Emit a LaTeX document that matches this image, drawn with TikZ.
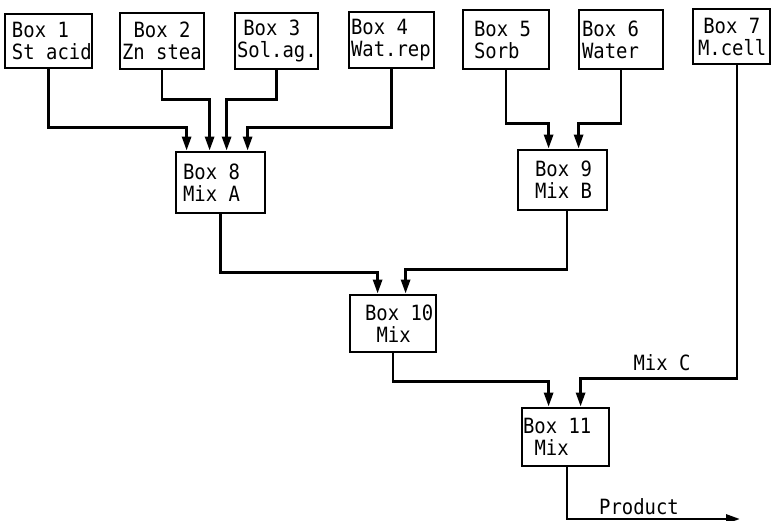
\documentclass[tikz,border=0pt]{standalone}
\usepackage{fontspec}
\setmonofont[FakeStretch=0.9]{DejaVu Sans Mono}
\usepackage{tikz}
\usetikzlibrary{arrows.meta}
\newcommand\boxfont{\ttfamily\fontsize{21}{22}\selectfont}
\newcommand\gap{\hspace*{0.542em}}

\begin{document}
\begin{tikzpicture}[x=1pt, y=-1pt,
    blk/.style={draw, line width=2.8pt, align=left, inner xsep=0pt, inner ysep=0pt,
      font=\boxfont},
    flow/.style={line width=2.8pt, -{Triangle[length=14pt, width=9pt]}},
    lbl/.style={font=\boxfont, inner sep=0pt}]
  \useasboundingbox (0,0) rectangle (772,521);
  \def\ind#1{\hspace*{#1em}}

  %--- raw materials (top row) ---
  \node[blk, minimum width=87pt, minimum height=54pt, text width=73pt] (b1) at (48.5,41)  {\mbox{Box\gap1}\\\mbox{St\gap acid}};
  \node[blk, minimum width=84pt, minimum height=56pt, text width=80pt] (b2) at (162,41)   {\mbox{\ind{0.55}Box\gap2}\\\mbox{Zn\gap stea}};
  \node[blk, minimum width=83pt, minimum height=56pt, text width=79pt] (b3) at (276.5,41) {\mbox{\ind{0.3}Box\gap3}\\\mbox{Sol.ag.}};
  \node[blk, minimum width=85pt, minimum height=56pt, text width=81pt] (b4) at (391.5,40) {\mbox{Box\gap4}\\\mbox{Wat.rep}};
  \node[blk, minimum width=86pt, minimum height=59pt, text width=64pt] (b5) at (506,39.5) {\mbox{Box\gap5}\\\mbox{Sorb}};
  \node[blk, minimum width=84pt, minimum height=59pt, text width=78pt] (b6) at (621,39.5) {\mbox{Box\gap6}\\\mbox{Water}};
  \node[blk, minimum width=77pt, minimum height=55pt, text width=67pt] (b7) at (731.5,36.5) {\mbox{\ind{0.25}Box\gap7}\\\mbox{M.cell}};

  %--- mixing steps ---
  \node[blk, minimum width=89pt, minimum height=61pt, text width=75pt] (b8)  at (220.5,182.5) {\mbox{Box\gap8}\\\mbox{Mix\gap A}};
  \node[blk, minimum width=89pt, minimum height=60pt, text width=55pt] (b9)  at (562.5,180)   {\mbox{Box\gap9}\\\mbox{Mix\gap B}};
  \node[blk, minimum width=86pt, minimum height=57pt, text width=56pt] (b10) at (393,323.5)   {\mbox{Box\gap10}\\\mbox{\ind{0.55}Mix}};
  \node[blk, minimum width=87pt, minimum height=58pt, text width=85pt] (b11) at (565.5,437)   {\mbox{Box\gap11}\\\mbox{\ind{0.55}Mix}};

  %--- into Mix A ---
  \draw[flow] (b1.south) -- ++(0,58) -| ([xshift=12pt]b8.north west);
  \draw[flow] (b2.south) -- ++(0,29) -| ([xshift=35pt]b8.north west);
  \draw[flow] (b3.south) -- ++(0,29) -| ([xshift=52pt]b8.north west);
  \draw[flow] (b4.south) -- ++(0,58) -| ([xshift=73pt]b8.north west);

  %--- into Mix B ---
  \draw[flow] (b5.south) -- ++(0,53) -| ([xshift=32pt]b9.north west);
  \draw[flow] (b6.south) -- ++(0,53) -| ([xshift=62pt]b9.north west);

  %--- A + B ---
  \draw[flow] (b8.south) -- ++(0,58) -| ([xshift=29pt]b10.north west);
  \draw[flow] ([xshift=4.5pt]b9.south) -- ++(0,58) -| ([xshift=57pt]b10.north west);

  %--- final mix ---
  \draw[flow] (b10.south) -- ++(0,28) -| ([xshift=28pt]b11.north west);
  \draw[flow] ([xshift=5.5pt]b7.south) -- ++(0,313) -| ([xshift=60pt]b11.north west);
  \node[lbl] (mixc) at (662,363) {Mix\gap C};

  %--- output ---
  \coordinate (out) at (740,519);
  \draw[flow] ([xshift=1.5pt]b11.south) |- (out);
  \node[lbl] (prod) at (639,507) {Product};

\end{tikzpicture}
\end{document}
